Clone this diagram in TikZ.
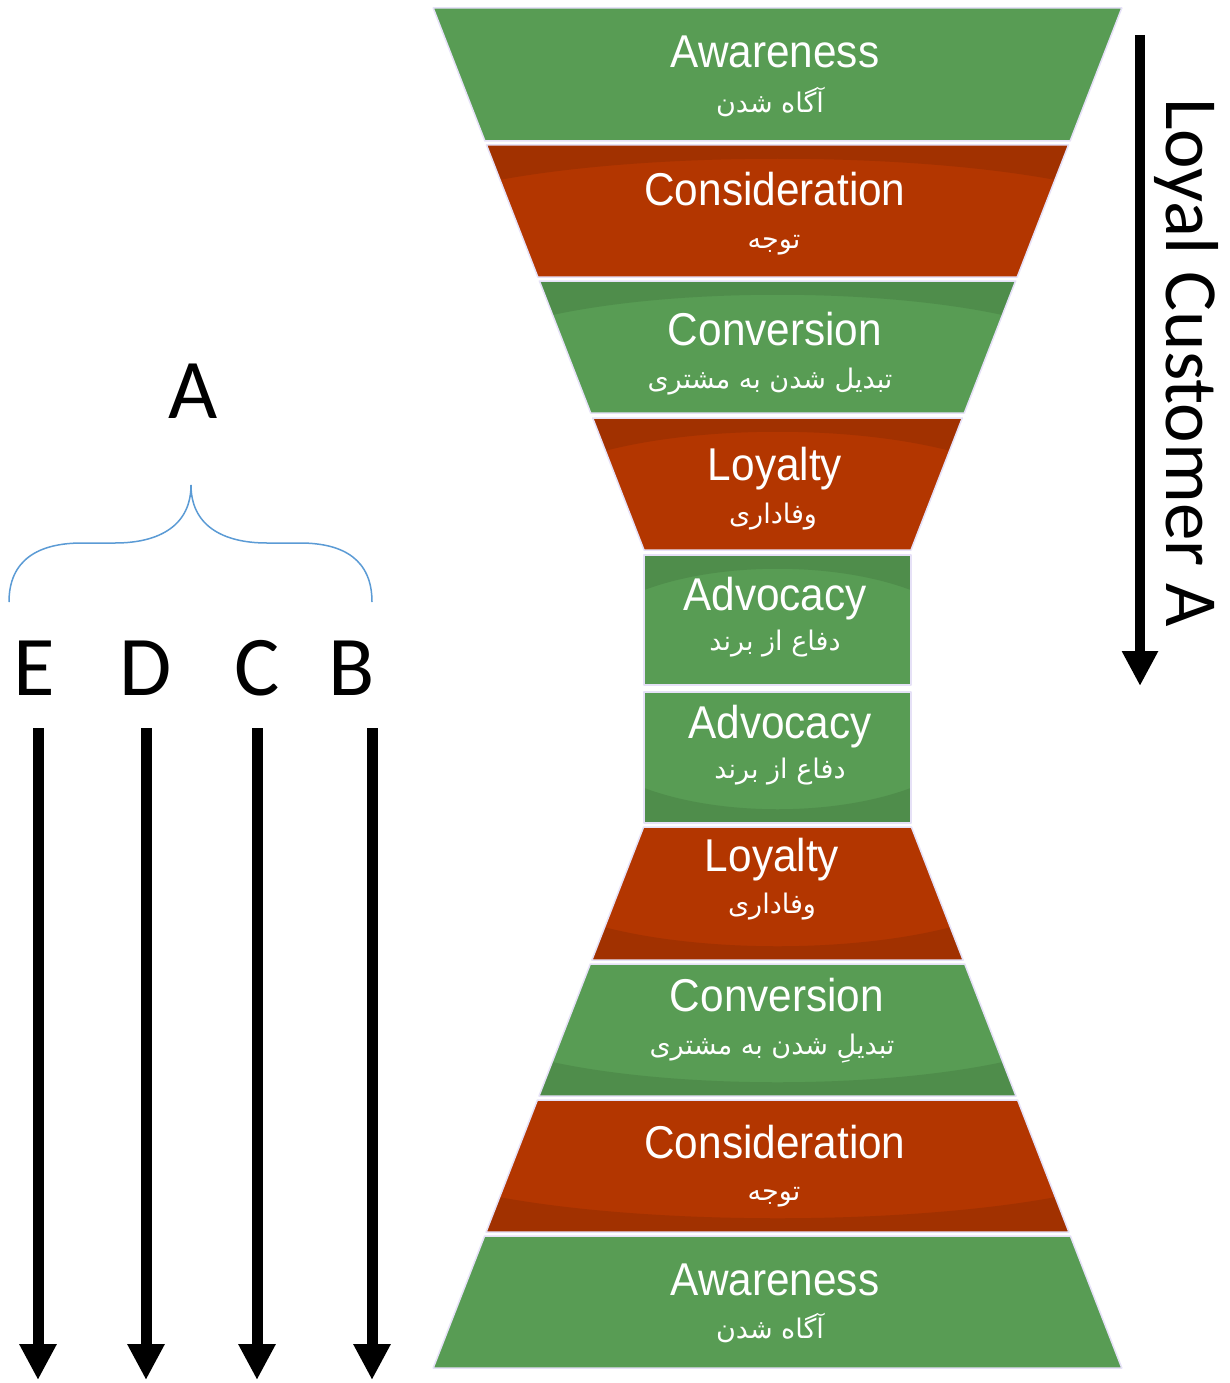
\documentclass[tikz,border=0pt]{standalone}
\usepackage{fontspec}
\usetikzlibrary{arrows.meta}
\setmainfont{Liberation Sans}
\newfontfamily\calib{Carlito}
\newfontfamily\arabicfont[Script=Arabic]{DejaVu Sans}
\TeXXeTstate=1

\definecolor{fgreen}{HTML}{589C54}
\definecolor{fred}{HTML}{B33600}
\definecolor{fedge}{HTML}{E6E1F7}
\definecolor{braceblue}{HTML}{5B9BD5}

\tikzset{
  engtext/.style={anchor=base, text=white, inner sep=0pt,
    font=\fontsize{46}{46}\selectfont},
  fatext/.style={anchor=base, text=white, inner sep=0pt,
    font=\arabicfont\fontsize{27}{27}\selectfont},
  letter/.style={anchor=base, inner sep=0pt, font=\calib\fontsize{85}{85}\selectfont},
  bigarrow/.style={line width=11pt, -{Triangle[width=35pt,length=36pt]}},
  brace/.style={draw=braceblue, line width=1.5pt},
  bandedge/.style={draw=fedge, line width=1.5pt, line join=round}
}

% one funnel band: #1 top y, #2 bottom y, #3 half width at top, #4 half width at bottom,
% #5 colour, #6 darker cap: 0 none, 1 at the top, 2 at the bottom
\newcommand{\fband}[6]{%
  \begin{scope}
    \clip ({777.5-#3},#1) -- ({777.5+#3},#1) -- ({777.5+#4},#2) -- ({777.5-#4},#2) -- cycle;
    \fill[#5] (400,#1) rectangle (1160,#2);
    \ifcase#6\relax
    \or
      \fill[#5!90!black] ({777.5-#3-12},#1) -- ({777.5+#3+12},#1) -- ({777.5+#3+12},{#1+40})
        .. controls ({777.5+0.5*#3},{#1+5}) and ({777.5-0.5*#3},{#1+5}) .. ({777.5-#3-12},{#1+40}) -- cycle;
    \or
      \fill[#5!90!black] ({777.5-#4-12},#2) -- ({777.5+#4+12},#2) -- ({777.5+#4+12},{#2-40})
        .. controls ({777.5+0.5*#4},{#2-5}) and ({777.5-0.5*#4},{#2-5}) .. ({777.5-#4-12},{#2-40}) -- cycle;
    \fi
  \end{scope}
  \draw[bandedge] ({777.5-#3},#1) -- ({777.5+#3},#1) -- ({777.5+#4},#2) -- ({777.5-#4},#2) -- cycle;
}

\begin{document}
\begin{tikzpicture}[x=1pt,y=-1pt]
\useasboundingbox[fill=white] (0,0) rectangle (1229,1383);

% funnel bands, top half narrowing, bottom half widening
\fband{8}{141}{344.3}{292.6}{fgreen}{0}
\fband{145}{277}{291.0}{239.7}{fred}{1}
\fband{281}{413}{238.1}{186.8}{fgreen}{1}
\fband{418}{550}{184.8}{133.5}{fred}{1}
\fband{555}{685}{133.5}{133.5}{fgreen}{1}
\fband{692}{823}{133.5}{133.5}{fgreen}{2}
\fband{827}{960}{133.9}{185.6}{fred}{2}
\fband{964}{1096}{187.2}{238.5}{fgreen}{2}
\fband{1100}{1232}{240.1}{291.4}{fred}{2}
\fband{1236}{1368}{292.9}{344.3}{fgreen}{0}

% band labels
\node[engtext] (aw1) at (775,68) {\scalebox{0.92}[1]{Awareness}};
\node[fatext]  (aw1fa) at (770,113) {\beginR آگاه شدن\endR};
\node[engtext] (co1) at (775,205) {\scalebox{0.92}[1]{Consideration}};
\node[fatext]  (co1fa) at (774,248) {\beginR توجه\endR};
\node[engtext] (cv1) at (775,345) {\scalebox{0.92}[1]{Conversion}};
\node[fatext]  (cv1fa) at (770,388) {\beginR تبدیل شدن به مشتری\endR};
\node[engtext] (lo1) at (775,480) {\scalebox{0.92}[1]{Loyalty}};
\node[fatext]  (lo1fa) at (773,523) {\beginR وفاداری\endR};
\node[engtext] (ad1) at (775,610) {\scalebox{0.92}[1]{Advocacy}};
\node[fatext]  (ad1fa) at (775,650) {\beginR دفاع از برند\endR};
\node[engtext] (ad2) at (780,738) {\scalebox{0.92}[1]{Advocacy}};
\node[fatext]  (ad2fa) at (780,778) {\beginR دفاع از برند\endR};
\node[engtext] (lo2) at (772,871) {\scalebox{0.92}[1]{Loyalty}};
\node[fatext]  (lo2fa) at (772,913) {\beginR وفاداری\endR};
\node[engtext] (cv2) at (777,1011) {\scalebox{0.92}[1]{Conversion}};
\node[fatext]  (cv2fa) at (772,1054) {\beginR تبدیلِ شدن به مشتری\endR};
\node[engtext] (co2) at (775,1158) {\scalebox{0.92}[1]{Consideration}};
\node[fatext]  (co2fa) at (774,1200) {\beginR توجه\endR};
\node[engtext] (aw2) at (775,1295) {\scalebox{0.92}[1]{Awareness}};
\node[fatext]  (aw2fa) at (770,1338) {\beginR آگاه شدن\endR};

% journey arrow on the right
\coordinate (loyalTop) at (1140,35);
\coordinate (loyalEnd) at (1140,686);
\draw[line width=10pt, -{Triangle[width=34pt,length=35pt]}] (loyalTop) -- (loyalEnd);
\node[anchor=base west, rotate=-90, inner sep=0pt, font=\calib\fontsize{75}{75}\selectfont]
  (loyalLabel) at (1166,98) {Loyal Customer A};

% customer A and its branches
\node[letter] (labA) at (193,418) {A};
\coordinate (braceL) at (9,602);
\coordinate (braceTip) at (191,485);
\coordinate (braceR) at (372,602);
\draw[brace] (braceL) .. controls (9,560) and (38,543) .. (82,543) -- (115,543)
  .. controls (160,543) and (191,525) .. (braceTip)
  .. controls (191,525) and (222,543) .. (267,543) -- (300,543)
  .. controls (344,543) and (372,560) .. (braceR);

\node[letter] (labE) at (34,695) {E};
\node[letter] (labD) at (146,695) {D};
\node[letter] (labC) at (257,695) {C};
\node[letter] (labB) at (352,695) {B};

\foreach \nm/\xx in {E/38,D/146,C/257,B/372}{
  \coordinate (arr\nm s) at (\xx,728);
  \coordinate (arr\nm e) at (\xx,1380);
  \draw[bigarrow] (arr\nm s) -- (arr\nm e);
}
\end{tikzpicture}
\end{document}
